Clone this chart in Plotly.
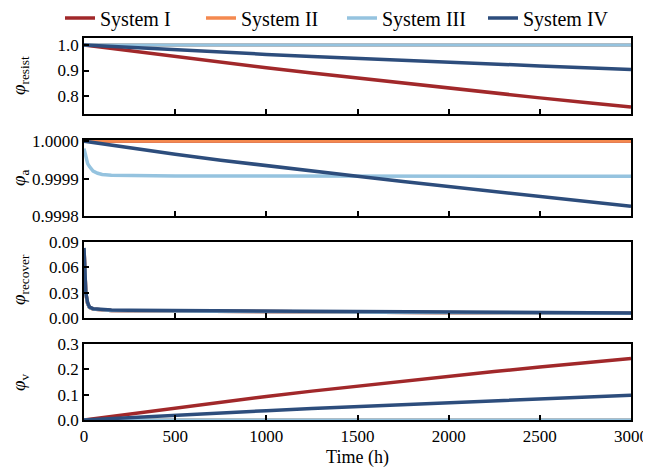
import plotly.graph_objects as go
from plotly.subplots import make_subplots

# ---------------- data ----------------
systems = ["System I", "System II", "System III", "System IV"]
colors = ["#A1282A", "#F4894F", "#95C3DF", "#2D4D7C"]

t_coarse = [0, 250, 500, 750, 1000, 1250, 1500, 1750, 2000, 2250, 2500, 2750, 3000]
t_fine = [0, 5, 10, 20, 30, 50, 75, 100, 150, 250, 500, 1000, 1500, 2000, 2500, 3000]

# phi_resist
resist_I = [1.0, 0.977, 0.954, 0.933, 0.911, 0.890, 0.870, 0.850, 0.831, 0.812, 0.793, 0.775, 0.757]
resist_II = [1.0] * 13
resist_III = [1.0] * 13
resist_IV = [1.0, 0.990, 0.981, 0.972, 0.963, 0.955, 0.947, 0.940, 0.932, 0.925, 0.918, 0.911, 0.904]

# phi_a
a_I = [1.0] * 13
a_II = [1.0] * 13
a_III = [0.99998, 0.99997, 0.99996, 0.99994, 0.999932, 0.99992, 0.999914, 0.999911,
         0.999909, 0.999908, 0.999907, 0.999907, 0.999906, 0.999906, 0.999906, 0.999906]
a_IV = [1.0, 0.999982, 0.999965, 0.999949, 0.999934, 0.999920, 0.999906, 0.999892,
        0.999879, 0.999865, 0.999852, 0.999839, 0.999826]

# phi_recover
rec_I = [0.082, 0.049, 0.029, 0.017, 0.0125, 0.0105, 0.0100, 0.0098, 0.0090, 0.0086,
         0.0082, 0.0072, 0.0066, 0.0062, 0.0058, 0.0055]
rec_II = rec_I
rec_III = rec_I
rec_IV = [0.083, 0.050, 0.030, 0.018, 0.0130, 0.0110, 0.0105, 0.0102, 0.0095, 0.0091,
          0.0088, 0.0078, 0.0072, 0.0068, 0.0064, 0.0060]

# phi_v
v_I = [0.0, 0.024, 0.048, 0.071, 0.093, 0.114, 0.134, 0.154, 0.173, 0.191, 0.209, 0.226, 0.243]
v_II = [0.0] * 13
v_III = [0.0] * 13
v_IV = [0.0, 0.010, 0.019, 0.028, 0.037, 0.045, 0.053, 0.061, 0.069, 0.076, 0.084, 0.091, 0.098]

x_ticks = [0, 500, 1000, 1500, 2000, 2500, 3000]

# ---------------- figure ----------------
FONT = "Liberation Serif, Times New Roman, serif"
# page body adds an 8px offset, so the figure is sized 8px smaller
L, R, T, B = 76, 20, 30, 48
W, H = 643, 460
H_PLOT = float(H - T - B)
W_PLOT = float(W - L - R)
gap = 26.0 / H_PLOT
ph = 76.0 / H_PLOT

fig = make_subplots(rows=4, cols=1, shared_xaxes=True, vertical_spacing=gap)

panels = [
    [(t_coarse, resist_I), (t_coarse, resist_II), (t_coarse, resist_III), (t_coarse, resist_IV)],
    [(t_coarse, a_I), (t_coarse, a_II), (t_fine, a_III), (t_coarse, a_IV)],
    [(t_fine, rec_I), (t_fine, rec_II), (t_fine, rec_III), (t_fine, rec_IV)],
    [(t_coarse, v_I), (t_coarse, v_II), (t_coarse, v_III), (t_coarse, v_IV)],
]

for r, series in enumerate(panels, start=1):
    for (xx, y), name, col in zip(series, systems, colors):
        fig.add_trace(go.Scatter(x=xx, y=y, mode="lines", name=name,
                                 line=dict(color=col, width=3.5),
                                 showlegend=(r == 1), legendgroup=name),
                      row=r, col=1)

axis_common = dict(showline=True, linecolor="black", linewidth=1.5, mirror=True,
                   ticks="inside", ticklen=5, tickwidth=1.5, tickcolor="black",
                   showgrid=False, zeroline=False, automargin=False,
                   tickfont=dict(family=FONT, size=17, color="black"))

for r in range(1, 5):
    fig.update_xaxes(range=[0, 3000], tickvals=x_ticks, showticklabels=(r == 4),
                     row=r, col=1, **axis_common)

fig.update_yaxes(range=[0.73, 1.027], tickvals=[0.8, 0.9, 1.0], tickformat=".1f", row=1, col=1, **axis_common)
fig.update_yaxes(range=[0.9998, 1.000003], tickvals=[0.9998, 0.9999, 1.0], tickformat=".4f", row=2, col=1, **axis_common)
fig.update_yaxes(range=[0, 0.09], tickvals=[0, 0.03, 0.06, 0.09], tickformat=".2f", row=3, col=1, **axis_common)
fig.update_yaxes(range=[0, 0.3], tickvals=[0, 0.1, 0.2, 0.3], tickformat=".1f", row=4, col=1, **axis_common)

fig.update_xaxes(title=dict(text="Time (h)", font=dict(family=FONT, size=18, color="black"), standoff=8),
                 row=4, col=1)

# y labels as aligned annotations
ylabels = ["<i>φ</i><sub>resist</sub>", "<i>φ</i><sub>a</sub>",
           "<i>φ</i><sub>recover</sub>", "<i>φ</i><sub>v</sub>"]
centers = [1 - ph / 2, 1 - ph - gap - ph / 2, ph + gap + ph / 2, ph / 2]
for lab, yc in zip(ylabels, centers):
    fig.add_annotation(text=lab, x=(12 - L) / W_PLOT, y=yc, xref="paper", yref="paper",
                       textangle=-90, showarrow=False, xanchor="center", yanchor="middle",
                       font=dict(family=FONT, size=19, color="black"))

fig.update_layout(
    width=W, height=H,
    margin=dict(l=L, r=R, t=T, b=B, autoexpand=False),
    paper_bgcolor="white", plot_bgcolor="white",
    font=dict(family=FONT, size=17, color="black"),
    legend=dict(orientation="h", x=(52 - L) / W_PLOT, xanchor="left",
                y=1 + 20 / H_PLOT, yanchor="middle",
                entrywidth=96, entrywidthmode="pixels",
                font=dict(family=FONT, size=20, color="black"), bgcolor="rgba(0,0,0,0)",
                itemwidth=30, tracegroupgap=0),
)

fig.write_html("out.html")
